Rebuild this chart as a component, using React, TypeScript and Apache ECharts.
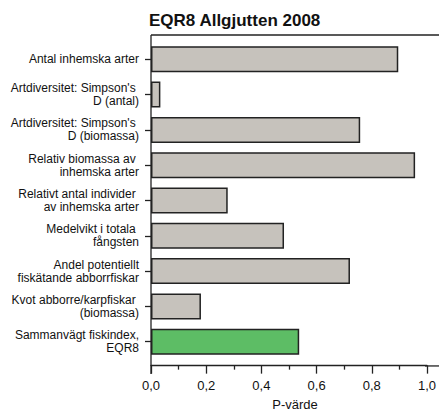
import React, { useEffect, useRef } from "react";
import * as echarts from "echarts";

const categories = [
  "Antal inhemska arter",
  "Artdiversitet: Simpson's \nD (antal)",
  "Artdiversitet: Simpson's \nD (biomassa)",
  "Relativ biomassa av \ninhemska arter",
  "Relativt antal individer \nav inhemska arter",
  "Medelvikt i totala \nfångsten",
  "Andel potentiellt\nfiskätande abborrfiskar",
  "Kvot abborre/karpfiskar \n(biomassa)",
  "Sammanvägt fiskindex,\nEQR8",
];
const values = [0.896, 0.034, 0.758, 0.957, 0.278, 0.482, 0.721, 0.181, 0.537];
const highlightIndex = 8;
const titleText = "EQR8 Allgjutten 2008";
const xAxisTitle = "P-värde";

const FONT = "'Liberation Sans', Arial, Helvetica, sans-serif";
const AXIS_COLOR = "#222";

export default function App() {
  const ref = useRef<HTMLDivElement>(null);
  useEffect(() => {
    if (!ref.current) return;
    const chart = echarts.init(ref.current, null, { renderer: "svg" });
    const left = 151;
    const right = 12;
    const top = 41.65;
    const bottom = 52.65;
    chart.setOption({
      animation: false,
      backgroundColor: "#fff",
      textStyle: { fontFamily: FONT },
      grid: { left, right, top, bottom, containLabel: false },
      xAxis: {
        type: "value",
        min: 0,
        max: 1,
        interval: 0.2,
        offset: 6.3,
        axisLine: { show: true, lineStyle: { color: AXIS_COLOR, width: 1.3 } },
        axisTick: { show: true, length: 8, lineStyle: { color: AXIS_COLOR, width: 1.3 } },
        minorTick: { show: true, splitNumber: 2, length: 4, lineStyle: { color: AXIS_COLOR, width: 1.3 } },
        splitLine: { show: false },
        axisLabel: {
          margin: 13,
          fontSize: 13,
          color: "#111",
          fontFamily: FONT,
          formatter: (v: number) => v.toFixed(1).replace(".", ","),
        },
      },
      yAxis: {
        type: "category",
        data: categories,
        inverse: true,
        axisLine: { show: false },
        axisTick: { show: true, alignWithLabel: true, length: 6, lineStyle: { color: AXIS_COLOR, width: 1.3 } },
        axisLabel: {
          margin: 12,
          fontSize: 12,
          lineHeight: 13,
          color: "#111",
          fontFamily: FONT,
          align: "right",
        },
      },
      series: [
        {
          type: "bar",
          data: values.map((v, i) => ({
            value: v,
            itemStyle: {
              color: i === highlightIndex ? "#5dbd65" : "#c6c2bc",
            },
          })),
          barWidth: 26,
          itemStyle: { borderColor: "#222", borderWidth: 1.5 },
        },
      ],
      graphic: [
        {
          type: "line",
          shape: { x1: left, y1: 35, x2: 439, y2: 35 },
          style: { stroke: AXIS_COLOR, lineWidth: 1.3 },
        },
        {
          type: "line",
          shape: { x1: left, y1: 35, x2: left, y2: 374 },
          style: { stroke: AXIS_COLOR, lineWidth: 1.3 },
        },
        {
          type: "line",
          shape: { x1: 425, y1: 365.95, x2: 439, y2: 365.95 },
          style: { stroke: AXIS_COLOR, lineWidth: 1.3 },
        },
        {
          type: "text",
          left: 149,
          top: 12,
          style: {
            text: titleText,
            font: `bold 17px ${FONT}`,
            fill: "#111",
          },
        },
        {
          type: "text",
          x: 295,
          y: 404,
          style: {
            text: xAxisTitle,
            font: `13px ${FONT}`,
            fill: "#111",
            align: "center",
            verticalAlign: "middle",
          },
        },
      ],
    });
    return () => chart.dispose();
  }, []);
  return (
    <div
      ref={ref}
      style={{ position: "fixed", left: 0, top: 0, width: 439, height: 412 }}
    />
  );
}
